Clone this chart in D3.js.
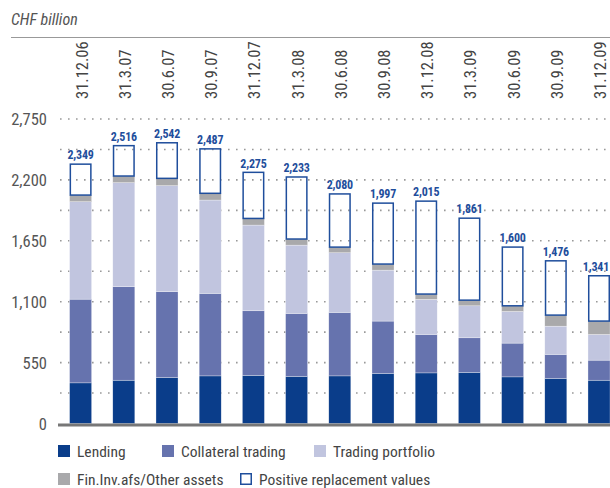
<!DOCTYPE html>
<html lang="en">
<head>
<meta charset="UTF-8" />
<title>CHF billion</title>
<script src="https://cdn.jsdelivr.net/npm/d3@7"></script>
<style>
  body { margin: 0; background: #fff; }
  text { font-family: "Liberation Sans Narrow", "Roboto Condensed", "DejaVu Sans Condensed", "Open Sans", sans-serif; }
</style>
</head>
<body>
<script>
// dates (x categories)
var dates = ["31.12.06", "31.3.07", "30.6.07", "30.9.07", "31.12.07", "31.3.08", "30.6.08",
             "30.9.08", "31.12.08", "31.3.09", "30.6.09", "30.9.09", "31.12.09"];
// segments, CHF billion
var lending    = [367, 391, 415, 430, 434, 425, 430, 452, 457, 461, 421, 407, 391];
var collateral = [756, 844, 775, 745, 584, 569, 573, 473, 347, 313, 305, 217, 181];
var trading    = [880, 940, 958, 843, 774, 617, 539, 460, 317, 289, 286, 255, 232];
var finInv     = [60, 60, 66, 61, 60, 55, 51, 55, 48, 51, 51, 100, 121];
// totals as labelled; positive replacement values = total - rest
var totals     = [2349, 2516, 2542, 2487, 2275, 2233, 2080, 1997, 2015, 1861, 1600, 1476, 1341];
var yTicks     = [0, 550, 1100, 1650, 2200, 2750];
var seriesNames = ["Lending", "Collateral trading", "Trading portfolio", "Fin.Inv.afs/Other assets", "Positive replacement values"];

var W = 610, H = 488;
var colors = ["#0a3d8a", "#6673ae", "#c1c5df", "#a9a9ab"];
var blue = "#1f4e9c";

var svg = d3.select("body").append("svg").attr("width", W).attr("height", H);

var x = d3.scaleBand().domain(dates)
    .range([59, 59 + 13 * 43.2])
    .paddingInner(0.49).paddingOuter(0.245);
var y = d3.scaleLinear().domain([0, 2750]).range([423.5, 119]);

// header
svg.append("text").attr("x", 11).attr("y", 25)
   .attr("font-size", 16).attr("font-style", "italic").attr("fill", "#555")
   .text("CHF billion");
svg.append("line").attr("x1", 11).attr("x2", W).attr("y1", 37.5).attr("y2", 37.5)
   .attr("stroke", "#999").attr("stroke-width", 1);

// date labels, rotated
svg.selectAll(".date").data(dates).enter().append("text")
   .attr("class", "date")
   .attr("transform", function(d) { return "translate(" + (x(d) + x.bandwidth() / 2 + 7) + ",99) rotate(-90)"; })
   .attr("font-size", 16.5).attr("fill", "#444")
   .text(function(d) { return d; });

// dotted grid every 275
var grid = d3.range(275, 2751, 275);
svg.selectAll(".grid").data(grid).enter().append("line")
   .attr("x1", 60).attr("x2", W)
   .attr("y1", function(d) { return y(d); }).attr("y2", function(d) { return y(d); })
   .attr("stroke", "#999").attr("stroke-width", 1.6)
   .attr("stroke-dasharray", "1.6,6.4");

// y axis labels
var yAxis = d3.axisLeft(y).tickValues(yTicks).tickSize(0).tickPadding(0)
    .tickFormat(d3.format(","));
var ya = svg.append("g").attr("transform", "translate(47,0)").call(yAxis);
ya.select(".domain").remove();
ya.selectAll("text").attr("font-size", 16.5).attr("fill", "#555")
   .attr("font-family", null).attr("dy", "0.35em");

// stacked bars
var rows = dates.map(function(d, i) {
  return { date: d, lending: lending[i], collateral: collateral[i], trading: trading[i], finInv: finInv[i] };
});
var stack = d3.stack().keys(["lending", "collateral", "trading", "finInv"])(rows);

svg.selectAll(".layer").data(stack).enter().append("g")
   .attr("fill", function(d, i) { return colors[i]; })
   .selectAll("rect").data(function(d) { return d; }).enter().append("rect")
   .attr("x", function(d) { return x(d.data.date); })
   .attr("width", x.bandwidth())
   .attr("y", function(d) { return y(d[1]); })
   .attr("height", function(d) { return y(d[0]) - y(d[1]); })
   .attr("stroke", "#fff").attr("stroke-width", 0.5).attr("stroke-opacity", 0.6);

// positive replacement values: open boxes
svg.selectAll(".prv").data(dates).enter().append("rect")
   .attr("x", function(d) { return x(d) + 0.75; })
   .attr("width", x.bandwidth() - 1.5)
   .attr("y", function(d, i) { return y(totals[i]) + 0.75; })
   .attr("height", function(d, i) { return y(stack[3][i][1]) - y(totals[i]) - 0.75; })
   .attr("fill", "none").attr("stroke", blue).attr("stroke-width", 1.5);

// total labels
svg.selectAll(".tot").data(dates).enter().append("text")
   .attr("x", function(d) { return x(d) + x.bandwidth() / 2; })
   .attr("y", function(d, i) { return y(totals[i]) - 4; })
   .attr("text-anchor", "middle").attr("font-size", 12).attr("font-weight", "bold")
   .attr("letter-spacing", -0.2)
   .attr("fill", blue)
   .text(function(d, i) { return d3.format(",")(totals[i]); })
   .each(function() {
     // keep the last label inside the picture
     var len = this.getComputedTextLength();
     var cx = +this.getAttribute("x");
     if (cx + len / 2 > W - 1) {
       d3.select(this).attr("text-anchor", "end").attr("x", W - 1);
     }
   });

// baseline
svg.append("rect").attr("x", 58).attr("y", y(0)).attr("width", W - 58).attr("height", 3)
   .attr("fill", "#777");

// legend
var legend = [
  { name: seriesNames[0], x: 58, y: 445, fill: colors[0] },
  { name: seriesNames[1], x: 162, y: 445, fill: colors[1] },
  { name: seriesNames[2], x: 314, y: 445, fill: colors[2] },
  { name: seriesNames[3], x: 58, y: 473, fill: colors[3] },
  { name: seriesNames[4], x: 240, y: 473, fill: "none" }
];
var lg = svg.selectAll(".lg").data(legend).enter().append("g");
lg.append("rect")
  .attr("x", function(d) { return d.fill === "none" ? d.x + 0.75 : d.x; })
  .attr("y", function(d) { return d.fill === "none" ? d.y + 0.75 : d.y; })
  .attr("width", function(d) { return d.fill === "none" ? 10.5 : 12; })
  .attr("height", function(d) { return d.fill === "none" ? 10.5 : 12; })
  .attr("fill", function(d) { return d.fill; })
  .attr("stroke", function(d) { return d.fill === "none" ? blue : null; })
  .attr("stroke-width", 1.5);
lg.append("text")
  .attr("x", function(d) { return d.x + 19; })
  .attr("y", function(d) { return d.y + 11.5; })
  .attr("font-size", 15.5).attr("fill", "#444")
  .text(function(d) { return d.name; });
</script>
</body>
</html>
